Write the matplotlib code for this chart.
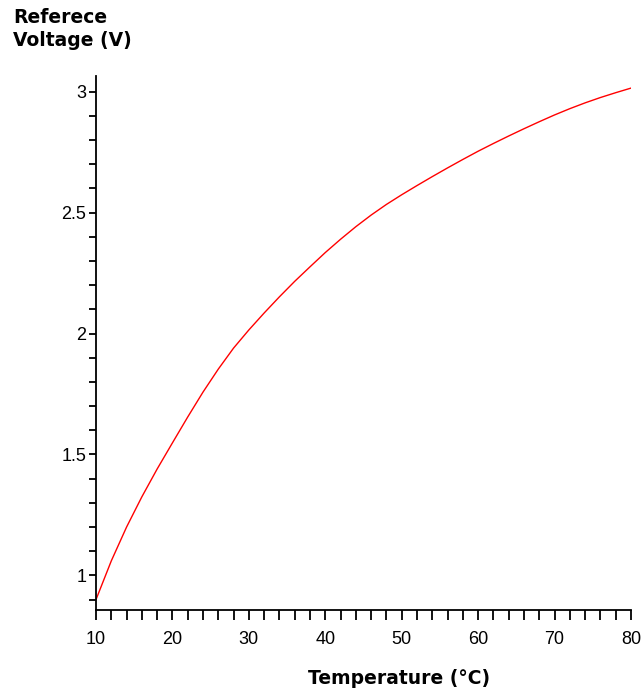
import matplotlib.pyplot as plt
from matplotlib.ticker import MultipleLocator

# temperature (deg C) and reference voltage (V)
temperature = [10, 12, 14, 16, 18, 20, 22, 24, 26, 28, 30, 32, 34, 36, 38, 40,
               42, 44, 46, 48, 50, 52, 54, 56, 58, 60, 62, 64, 66, 68, 70, 72,
               74, 76, 78, 80]
voltage = [0.90, 1.06, 1.20, 1.325, 1.44, 1.548, 1.655, 1.758, 1.853, 1.94,
           2.015, 2.085, 2.152, 2.216, 2.276, 2.335, 2.39, 2.442, 2.49, 2.534,
           2.574, 2.612, 2.649, 2.685, 2.72, 2.754, 2.786, 2.817, 2.847, 2.876,
           2.904, 2.93, 2.954, 2.976, 2.996, 3.015]

plt.rcParams['font.family'] = ['Liberation Sans', 'DejaVu Sans']

fig = plt.figure(figsize=(6.43, 6.98), dpi=100)
ax = fig.add_axes([96 / 643, 88 / 698, 535 / 643, 534 / 698])

ax.plot(temperature, voltage, color='red', lw=1.0)

ax.set_xlim(10, 80)
ax.set_ylim(0.857, 3.065)

for side in ['top', 'right']:
    ax.spines[side].set_visible(False)
for side in ['left', 'bottom']:
    ax.spines[side].set_linewidth(1.3)

ax.xaxis.set_major_locator(MultipleLocator(10))
ax.xaxis.set_minor_locator(MultipleLocator(2))
ax.yaxis.set_major_locator(MultipleLocator(0.5))
ax.yaxis.set_minor_locator(MultipleLocator(0.1))
ax.yaxis.set_major_formatter(plt.FuncFormatter(lambda v, p: '%g' % v))

ax.tick_params(axis='x', which='both', direction='out', length=7, width=1.3,
               pad=8, labelsize=13)
ax.tick_params(axis='y', which='both', direction='out', length=5, width=1.3,
               pad=2, labelsize=13)

fig.text(399 / 643, 1 - 678 / 698, 'Temperature (°C)', fontsize=13.5,
         fontweight='bold', family='DejaVu Sans', ha='center', va='center')
fig.text(13 / 643, 1 - 8 / 698, 'Referece\nVoltage (V)', fontsize=13.5,
         fontweight='bold', family='DejaVu Sans', ha='left', va='top',
         linespacing=1.3)

fig.savefig('out.png', dpi=100)
